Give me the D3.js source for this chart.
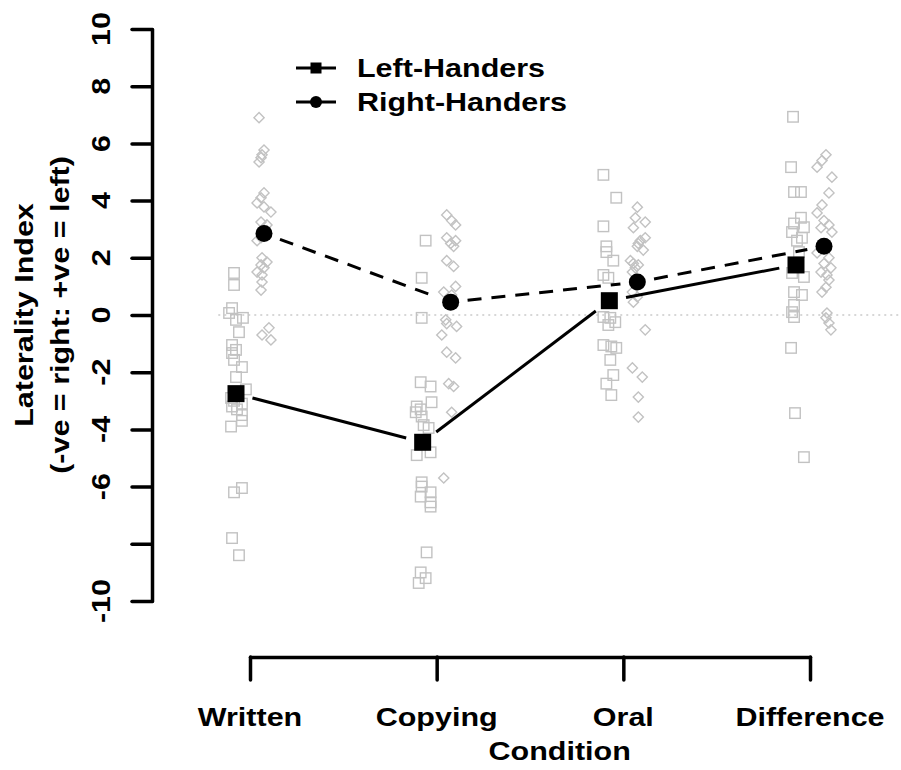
<!DOCTYPE html>
<html>
<head>
<meta charset="utf-8">
<script src="https://cdn.jsdelivr.net/npm/d3@7"></script>
<style>
  body { margin: 0; background: #fff; }
  text { font-family: "Liberation Sans", Arial, sans-serif; font-weight: bold; fill: #000; }
</style>
</head>
<body>
<div id="chart"></div>
<script>
// conditions and group means
var conditions = ["Written", "Copying", "Oral", "Difference"];
var leftMeans = [-2.75, -4.45, 0.5, 1.75];
var rightMeans = [2.85, 0.45, 1.15, 2.4];

var yTicks = [-10, -8, -6, -4, -2, 0, 2, 4, 6, 8, 10];
var yTickLabels = ["-10", "", "-6", "-4", "-2", "0", "2", "4", "6", "8", "10"];

// individual scores: [laterality index, jitter (-1..1)]
var leftWritten = [[1.47,-0.2],[1.05,-0.2],[0.24,-0.4],[0.07,-0.7],[-0.1,0.7],[-0.17,0],[-0.6,0.3],
  [-1.05,-0.4],[-1.22,0],[-1.33,-0.4],[-1.57,-0.2],[-1.82,0.6],[-2.17,0],[-2.6,1.0],[-2.9,-0.5],
  [-3.0,-0.2],[-3.1,0.6],[-3.2,-0.4],[-3.3,0.1],[-3.5,0.6],[-3.7,0.6],[-3.9,-0.5],[-6.05,0.6],
  [-6.2,-0.2],[-7.8,-0.4],[-8.4,0.3]];
var leftCopying = [[2.6,0.3],[1.3,-0.1],[-0.1,-0.1],[-2.35,-0.2],[-2.5,0.8],[-3.05,0.9],[-3.2,-0.6],
  [-3.3,-0.2],[-3.4,-0.7],[-3.55,-0.1],[-3.85,0.1],[-3.95,0.6],[-4.8,0.8],[-4.9,-0.6],[-5.85,-0.1],
  [-6.0,-0.1],[-6.2,0.8],[-6.35,-0.2],[-6.55,0.8],[-6.7,0.8],[-8.3,0.4],[-9.0,-0.2],[-9.2,0.3],[-9.37,-0.4]];
var leftOral = [[4.9,-0.6],[4.1,0.7],[3.1,-0.6],[2.4,-0.3],[2.2,-0.3],[1.9,0.4],[1.4,-0.6],[1.3,-0.1],
  [-0.07,-0.6],[-0.1,0.1],[-0.25,0.6],[-0.35,-0.1],[-1.05,-0.6],[-1.1,0.2],[-1.15,0.7],[-1.57,0.1],
  [-2.1,0.4],[-2.4,-0.3],[-2.8,0.2]];
var leftDifference = [[6.93,-0.3],[5.17,-0.5],[4.3,-0.2],[4.3,0.5],[3.4,0.5],[3.2,-0.2],[3.07,0.8],
  [2.9,-0.4],[2.7,0.6],[2.6,0.1],[2.2,0.3],[1.47,-0.4],[1.33,0.8],[0.8,-0.2],[0.7,0.6],[0.35,-0.2],
  [0.1,-0.4],[-0.07,-0.2],[-1.15,-0.5],[-3.43,-0.1],[-4.97,0.8]];

var rightWritten = [[6.9,-0.5],[5.77,0],[5.6,-0.2],[5.5,-0.3],[5.35,-0.5],[4.27,0],[4.1,-0.3],[3.92,-0.7],
  [3.78,0],[3.6,0.7],[3.25,-0.3],[3.15,0.3],[2.97,0],[2.7,-0.3],[2.6,-0.7],[2.0,-0.2],[1.85,0.3],
  [1.75,-0.3],[1.65,0],[1.5,-0.7],[1.4,-0.2],[1.15,-0.2],[0.87,-0.3],[-0.45,0.5],[-0.7,-0.2],[-0.87,0.7]];
var rightCopying = [[3.5,-0.4],[3.3,0.1],[3.15,0.5],[2.7,-0.4],[2.6,0.5],[2.5,0],[2.4,0.3],[1.9,-0.4],
  [1.7,0.3],[1.0,0.5],[0.8,-0.7],[0.7,0.1],[-0.17,-0.5],[-0.3,-0.4],[-0.4,0.6],[-0.7,-0.9],[-1.3,-0.4],
  [-1.5,0.5],[-2.4,-0.2],[-2.5,0.3],[-3.4,0.1],[-5.7,-0.7]];
var rightOral = [[3.77,0],[3.4,-0.2],[3.25,0.8],[3.05,-0.4],[2.7,0.8],[2.6,0.3],[2.5,0.1],[2.4,0],
  [2.27,0.6],[1.9,-0.7],[1.8,-0.4],[1.75,0.1],[1.65,-0.2],[1.5,-0.5],[0.8,-0.5],[0.63,0],[0.45,-0.4],
  [-0.52,0.8],[-1.85,-0.5],[-2.17,0.5],[-2.87,0.1],[-3.57,0.1]];
var rightDifference = [[5.6,0.2],[5.4,-0.2],[5.17,-0.7],[4.82,0.8],[4.27,0.5],[3.85,-0.2],[3.57,-0.7],
  [3.3,0],[3.15,0.5],[3.05,-0.3],[2.9,0.8],[2.17,-0.7],[2.0,0.5],[1.8,0],[1.65,0.7],[1.5,-0.3],
  [1.4,0.3],[1.22,0.5],[0.97,0.2],[0.8,-0.2],[0.07,0.3],[-0.1,0.2],[-0.28,0.5],[-0.52,0.7]];

var leftPoints = [leftWritten, leftCopying, leftOral, leftDifference];
var rightPoints = [rightWritten, rightCopying, rightOral, rightDifference];

var w = 901, h = 770;
var groupOffset = 0.075;   // left-handers sit left of the tick, right-handers right
var jitterAmount = 0.053;
var stretch = 1.22;        // the original font renders wide
var fontSize = 25;

var svg = d3.select("#chart").append("svg")
  .attr("width", w)
  .attr("height", h);
svg.append("rect").attr("width", w).attr("height", h).attr("fill", "#fff");

var xScale = d3.scaleLinear().domain([0, 3]).range([250, 810]);
var yScale = d3.scaleLinear().domain([-10, 10]).range([601, 29]);
var plotLeft = xScale(-0.17), plotRight = w;

function label(x, y, str, rot) {
  return svg.append("text")
    .attr("transform", "translate(" + x + "," + y + ") rotate(" + (rot || 0) + ") scale(" + stretch + ",1)")
    .attr("text-anchor", "middle")
    .style("font-size", fontSize + "px")
    .text(str);
}

// zero reference line
svg.append("line")
  .attr("x1", plotLeft).attr("x2", plotRight)
  .attr("y1", yScale(0)).attr("y2", yScale(0))
  .attr("stroke", "#b0b0b0")
  .attr("stroke-width", 1.2)
  .attr("stroke-dasharray", "2,4");

// individual points
var pts = svg.append("g").attr("fill", "none").attr("stroke", "#c2c2c2").attr("stroke-width", 1.4);
leftPoints.forEach(function(arr, i) {
  pts.selectAll(null).data(arr).enter().append("rect")
    .attr("x", function(d) { return xScale(i - groupOffset + d[1] * jitterAmount) - 5.25; })
    .attr("y", function(d) { return yScale(d[0]) - 5.25; })
    .attr("width", 10.5).attr("height", 10.5);
});
var diamond = d3.symbol().type(d3.symbolDiamond2).size(66);
rightPoints.forEach(function(arr, i) {
  pts.selectAll(null).data(arr).enter().append("path")
    .attr("d", diamond)
    .attr("transform", function(d) {
      return "translate(" + xScale(i + groupOffset + d[1] * jitterAmount) + "," + yScale(d[0]) + ")";
    });
});

// mean lines, broken around the markers
function meanLine(means, offset, dash) {
  var gap = 17;
  for (var i = 0; i < means.length - 1; i++) {
    var x1 = xScale(i + offset), y1 = yScale(means[i]);
    var x2 = xScale(i + 1 + offset), y2 = yScale(means[i + 1]);
    var len = Math.sqrt((x2 - x1) * (x2 - x1) + (y2 - y1) * (y2 - y1));
    var ux = (x2 - x1) / len, uy = (y2 - y1) / len;
    svg.append("line")
      .attr("x1", x1 + ux * gap).attr("y1", y1 + uy * gap)
      .attr("x2", x2 - ux * gap).attr("y2", y2 - uy * gap)
      .attr("stroke", "#000")
      .attr("stroke-width", 3)
      .attr("stroke-dasharray", dash);
  }
}
meanLine(leftMeans, -groupOffset, null);
meanLine(rightMeans, groupOffset, "14,10");

svg.selectAll(".lmean").data(leftMeans).enter().append("rect")
  .attr("x", function(d, i) { return xScale(i - groupOffset) - 8.5; })
  .attr("y", function(d) { return yScale(d) - 8.5; })
  .attr("width", 17).attr("height", 17)
  .attr("fill", "#000");
svg.selectAll(".rmean").data(rightMeans).enter().append("circle")
  .attr("cx", function(d, i) { return xScale(i + groupOffset); })
  .attr("cy", function(d) { return yScale(d); })
  .attr("r", 8.5)
  .attr("fill", "#000");

// axes
var yAxis = d3.axisLeft(yScale).tickValues(yTicks).tickFormat("").tickSize(20).tickSizeOuter(0);
var gy = svg.append("g").attr("transform", "translate(152,0)").call(yAxis);
var xAxis = d3.axisBottom(xScale).tickValues([0, 1, 2, 3]).tickFormat("").tickSize(23).tickSizeOuter(0);
var gx = svg.append("g").attr("transform", "translate(0,657)").call(xAxis);
[gx, gy].forEach(function(g) {
  g.selectAll("path, line").attr("stroke", "#000").attr("stroke-width", 3.5).attr("stroke-linecap", "round");
});

yTicks.forEach(function(v, i) {
  label(110, yScale(v), yTickLabels[i], -90);
});
conditions.forEach(function(c, i) {
  label(xScale(i), 726, c);
});

label((plotLeft + plotRight) / 2, 760, "Condition");
label(33, yScale(0), "Laterality Index", -90);
label(69, yScale(0), "(-ve = right: +ve = left)", -90);

// legend
var legend = [
  { name: "Left-Handers", y: 68, shape: "square" },
  { name: "Right-Handers", y: 102, shape: "circle" }
];
legend.forEach(function(d) {
  svg.append("line")
    .attr("x1", 296).attr("x2", 336).attr("y1", d.y).attr("y2", d.y)
    .attr("stroke", "#000").attr("stroke-width", 3);
  if (d.shape == "square") {
    svg.append("rect").attr("x", 310.5).attr("y", d.y - 5.5).attr("width", 11).attr("height", 11).attr("fill", "#000");
  } else {
    svg.append("circle").attr("cx", 316).attr("cy", d.y).attr("r", 6).attr("fill", "#000");
  }
  svg.append("text")
    .attr("transform", "translate(357," + (d.y + 9) + ") scale(" + stretch + ",1)")
    .style("font-size", fontSize + "px")
    .text(d.name);
});
</script>
</body>
</html>
